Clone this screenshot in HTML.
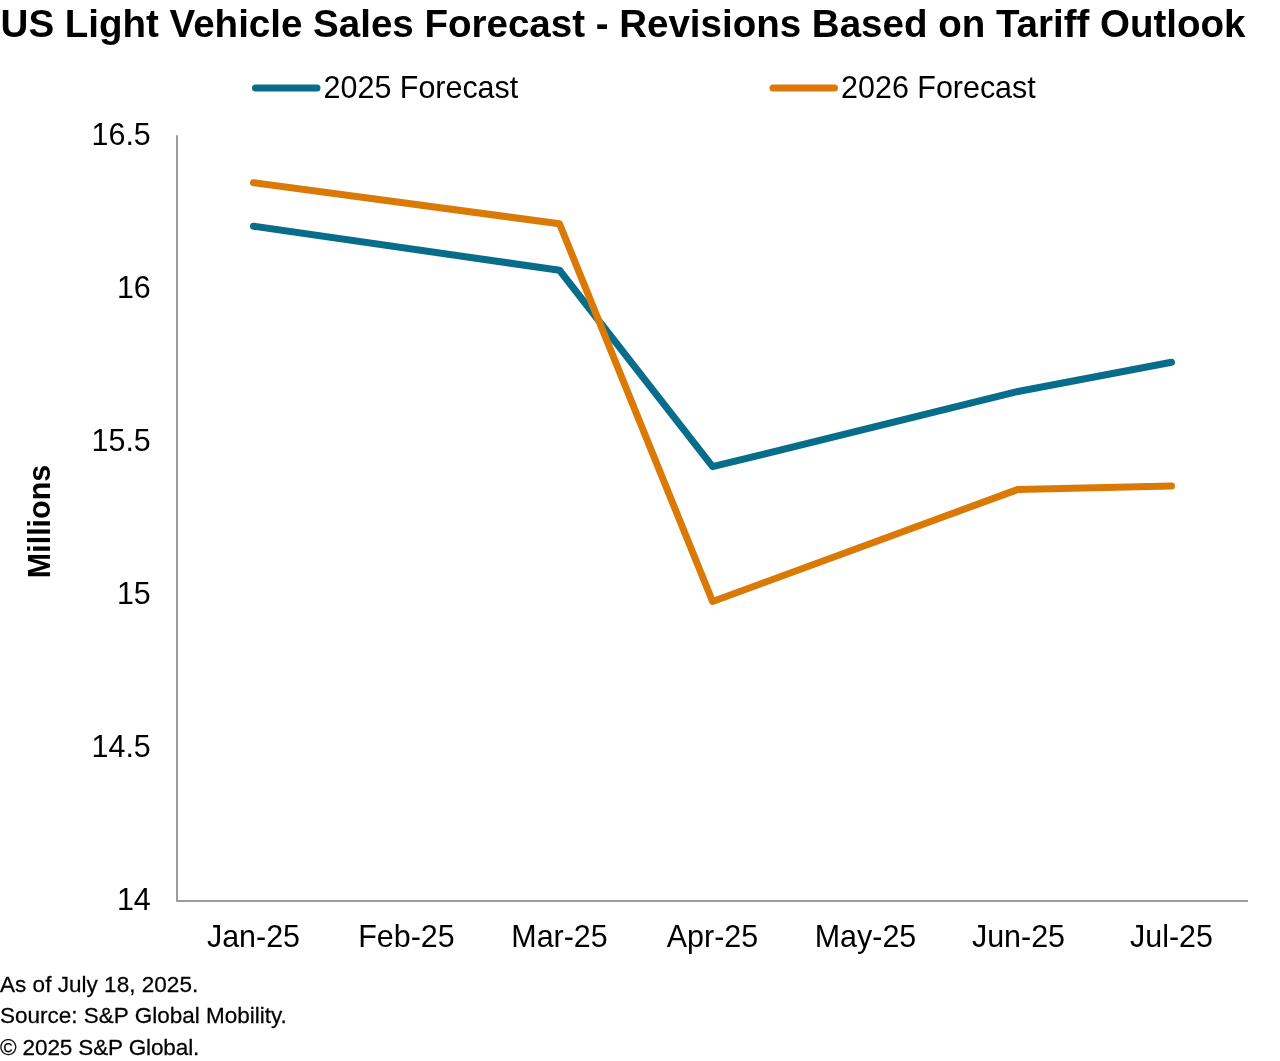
<!DOCTYPE html>
<html lang="en">
<head>
<meta charset="utf-8">
<title>US Light Vehicle Sales Forecast</title>
<style>
html,body{margin:0;padding:0;background:#fff;}
body{width:1280px;height:1061px;overflow:hidden;position:relative;font-family:"Liberation Sans",Arial,sans-serif;color:#000;}
svg{position:absolute;left:0;top:0;display:block;}
text{font-family:"Liberation Sans",Arial,sans-serif;fill:#000;}
.t{font-weight:bold;font-size:38.52px;}
.lg{font-size:30.45px;}
.ax{font-size:30.45px;}
.yl{font-size:30.45px;font-weight:bold;}
.ft{font-size:22.5px;stroke:#000;stroke-width:0.25px;}
</style>
</head>
<body>
<svg width="1280" height="1061" viewBox="0 0 1280 1061">
<rect width="1280" height="1061" fill="#fff"/>
<text id="title" class="t" transform="translate(0.6 36.9) scale(1 1.0)">US Light Vehicle Sales Forecast - Revisions Based on Tariff Outlook</text>
<line x1="255.5" y1="88.1" x2="317" y2="88.1" stroke="#076d8a" stroke-width="7.0" stroke-linecap="round"/>
<text id="lg1" class="lg" transform="translate(323.6 97.6) scale(1 1.02)">2025 Forecast</text>
<line x1="773" y1="88.1" x2="834.5" y2="88.1" stroke="#db7906" stroke-width="7.0" stroke-linecap="round"/>
<text id="lg2" class="lg" transform="translate(841.1 97.6) scale(1 1.02)">2026 Forecast</text>
<path d="M177 135.3 V900.9 H1248" fill="none" stroke="#9c9c9c" stroke-width="2" stroke-linejoin="round"/>
<text class="ax" text-anchor="end" transform="translate(150.8 144.75) scale(1 1.041)">16.5</text>
<text class="ax" text-anchor="end" transform="translate(150.8 297.87) scale(1 1.041)">16</text>
<text class="ax" text-anchor="end" transform="translate(150.8 450.99) scale(1 1.041)">15.5</text>
<text class="ax" text-anchor="end" transform="translate(150.8 604.11) scale(1 1.041)">15</text>
<text class="ax" text-anchor="end" transform="translate(150.8 757.23) scale(1 1.041)">14.5</text>
<text class="ax" text-anchor="end" transform="translate(150.8 910.35) scale(1 1.041)">14</text>
<text class="ax" text-anchor="middle" transform="translate(253.5 946.8) scale(1 1.03)">Jan-25</text>
<text class="ax" text-anchor="middle" transform="translate(406.5 946.8) scale(1 1.03)">Feb-25</text>
<text class="ax" text-anchor="middle" transform="translate(559.5 946.8) scale(1 1.03)">Mar-25</text>
<text class="ax" text-anchor="middle" transform="translate(712.5 946.8) scale(1 1.03)">Apr-25</text>
<text class="ax" text-anchor="middle" transform="translate(865.5 946.8) scale(1 1.03)">May-25</text>
<text class="ax" text-anchor="middle" transform="translate(1018.5 946.8) scale(1 1.03)">Jun-25</text>
<text class="ax" text-anchor="middle" transform="translate(1171.5 946.8) scale(1 1.03)">Jul-25</text>
<text id="mil" class="yl" text-anchor="middle" transform="translate(50.4 521.5) rotate(-90)">Millions</text>
<polyline points="253.5,226.25 559.5,270.25 712.6,466.7 1018,391.5 1171.5,362.25" fill="none" stroke="#076d8a" stroke-width="7.0" stroke-linecap="round" stroke-linejoin="round"/>
<polyline points="253.5,182.75 559.5,223.75 712.6,601.5 1018,489.4 1171.5,486" fill="none" stroke="#db7906" stroke-width="7.0" stroke-linecap="round" stroke-linejoin="round"/>
<text id="f1" class="ft" textLength="198.2" lengthAdjust="spacing" transform="translate(0 991.6) scale(1 1.01)">As of July 18, 2025.</text>
<text id="f2" class="ft" transform="translate(0 1023.3) scale(1 1.01)">Source: S&amp;P Global Mobility.</text>
<text id="f3" class="ft" textLength="199.3" lengthAdjust="spacing" transform="translate(0 1055.0) scale(1 1.01)">© 2025 S&amp;P Global.</text>
</svg>
</body>
</html>
